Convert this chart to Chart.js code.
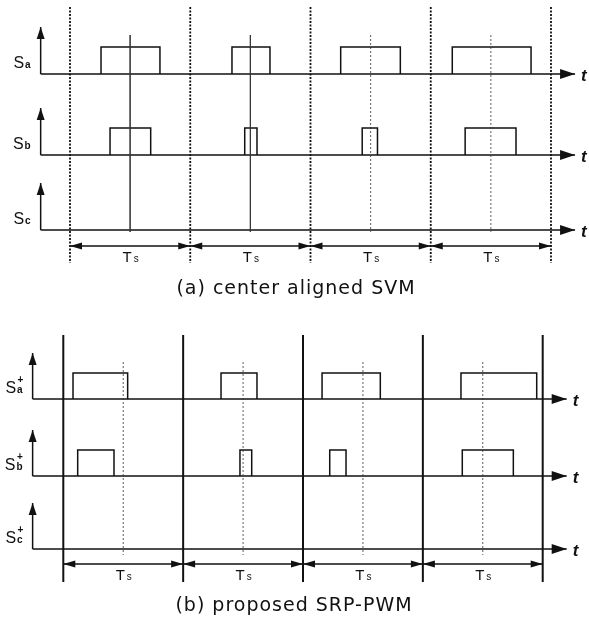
<!DOCTYPE html>
<html>
<head>
<meta charset="utf-8">
<script src="https://cdn.jsdelivr.net/npm/chart.js@4.4.1/dist/chart.umd.min.js"></script>
<style>
  html, body { margin: 0; padding: 0; background: #fff; }
  canvas { display: block; }
</style>
</head>
<body>
<canvas id="pwm" width="589" height="624"></canvas>
<script>
// switching periods (t / Ts)
const periods = [0, 1, 2, 3];
// gate pulses as [on, off] in t / Ts : center aligned SVM
const svmSa = [[0.258, 0.748], [1.347, 1.663], [2.251, 2.747], [3.179, 3.834]];
const svmSb = [[0.333, 0.671], [1.453, 1.555], [2.430, 2.557], [3.286, 3.709]];
const svmSc = [];
// gate pulses as [on, off] in t / Ts : proposed SRP-PWM
const srpSa = [[0.081, 0.537], [1.316, 1.616], [2.159, 2.645], [3.318, 3.950]];
const srpSb = [[0.120, 0.423], [1.474, 1.572], [2.223, 2.359], [3.329, 3.755]];
const srpSc = [];
// texts
const phaseSubs = ['a', 'b', 'c'];
const periodText = ['T', 's'];
const captions = ['(a) center aligned SVM', '(b) proposed SRP-PWM'];

// layout of the two panels (vertical units = canvas rows)
const panels = [
  { x: 'xa', waves: [svmSa, svmSb, svmSc], sup: '', rows: [74, 155, 230], amp: 27,
    axisT: -0.244, axisH: 47, endT: 4.2, bound: [7, 263], boundW: 1.8, boundDash: [2, 1.5],
    center: [35, 232], centerDash: [[], [], [2, 2], [2, 2]], tsY: 246, tsTextY: 262,
    capY: 289, capX: 296, tX: 4.25, tYOff: 7 },
  { x: 'xb', waves: [srpSa, srpSb, srpSc], sup: '+', rows: [399, 476, 549], amp: 26,
    axisT: -0.256, axisH: 46, endT: 4.2, bound: [335, 582], boundW: 2, boundDash: [],
    center: [362, 555], centerDash: [[2, 2], [2, 2], [2, 2], [2, 2]], tsY: 564, tsTextY: 580,
    capY: 606, capX: 294, tX: 4.25, tYOff: 7 }
];

// one closed rectangle per pulse, resting on the row's time axis
function pulseOutline(pulses, base, amp){
  const pts = [];
  pulses.forEach(([on, off], i) => {
    if (i) pts.push({ x: on, y: null });
    pts.push({ x: on, y: base }, { x: on, y: base - amp }, { x: off, y: base - amp }, { x: off, y: base });
  });
  return pts;
}

function line(xID, pts, width, dash, extra){
  return Object.assign({
    data: pts, xAxisID: xID, yAxisID: 'y', borderColor: '#111', borderWidth: width,
    borderDash: dash || [], pointRadius: 0, tension: 0, fill: false, clip: false, spanGaps: false
  }, extra || {});
}

const datasets = [];
panels.forEach(p => {
  // period boundaries and period centres
  periods.concat([periods.length]).forEach(k => {
    datasets.push(line(p.x, [{ x: k, y: p.bound[0] }, { x: k, y: p.bound[1] }], p.boundW, p.boundDash));
  });
  periods.forEach(k => {
    datasets.push(line(p.x, [{ x: k + 0.5, y: p.center[0] }, { x: k + 0.5, y: p.center[1] }], 0.8, p.centerDash[k],
      { borderColor: '#333' }));
  });
  // switching functions with their own axes
  p.waves.forEach((pulses, r) => {
    const base = p.rows[r];
    datasets.push(line(p.x, [{ x: p.axisT, y: base }, { x: p.endT, y: base }], 1.6, [], { arrowEnd: [15, 5] }));
    datasets.push(line(p.x, [{ x: p.axisT, y: base }, { x: p.axisT, y: base - p.axisH }], 1.5, [], { arrowEnd: [12, 4] }));
    if (pulses.length) datasets.push(line(p.x, pulseOutline(pulses, base, p.amp), 1.5, []));
  });
  // Ts dimension arrows
  periods.forEach(k => {
    datasets.push(line(p.x, [{ x: k, y: p.tsY }, { x: k + 1, y: p.tsY }], 1.4, [], { arrowStart: [12, 3.5], arrowEnd: [12, 3.5] }));
  });
});

function head(ctx, tip, from, len, half){
  const a = Math.atan2(tip.y - from.y, tip.x - from.x);
  const bx = tip.x - Math.cos(a) * len, by = tip.y - Math.sin(a) * len;
  ctx.beginPath();
  ctx.moveTo(tip.x, tip.y);
  ctx.lineTo(bx - Math.sin(a) * half, by + Math.cos(a) * half);
  ctx.lineTo(bx + Math.sin(a) * half, by - Math.cos(a) * half);
  ctx.closePath();
  ctx.fill();
}

const arrowHeads = {
  id: 'arrowHeads',
  afterDatasetsDraw(chart){
    const ctx = chart.ctx;
    ctx.save();
    ctx.fillStyle = '#111';
    chart.data.datasets.forEach((ds, i) => {
      const pts = chart.getDatasetMeta(i).data;
      const n = pts.length;
      if (ds.arrowEnd) head(ctx, pts[n - 1], pts[n - 2], ds.arrowEnd[0], ds.arrowEnd[1]);
      if (ds.arrowStart) head(ctx, pts[0], pts[1], ds.arrowStart[0], ds.arrowStart[1]);
    });
    ctx.restore();
  }
};

const labels = {
  id: 'labels',
  afterDatasetsDraw(chart){
    const ctx = chart.ctx, y = chart.scales.y;
    ctx.save();
    ctx.fillStyle = '#111';
    ctx.textBaseline = 'alphabetic';
    panels.forEach(p => {
      const xs = chart.scales[p.x];
      const axisPx = xs.getPixelForValue(p.axisT);
      // row names S_a, S_b, S_c
      phaseSubs.forEach((sub, r) => {
        const by = y.getPixelForValue(p.rows[r]) - 6;
        ctx.font = '16px "Liberation Sans", Arial, sans-serif';
        ctx.textAlign = 'left';
        const sW = ctx.measureText('S').width;
        ctx.font = 'bold 10px "Liberation Sans", Arial, sans-serif';
        const subW = ctx.measureText(sub).width;
        const left = axisPx - 10 - sW - 1 - subW;
        ctx.font = '16px "Liberation Sans", Arial, sans-serif';
        ctx.fillText('S', left, by);
        ctx.font = 'bold 10px "Liberation Sans", Arial, sans-serif';
        ctx.fillText(sub, left + sW + 1, by);
        if (p.sup) ctx.fillText(p.sup, left + sW + 1.5, by - 10);
      });
      // time axis labels
      ctx.font = 'italic bold 17px "Liberation Sans", Arial, sans-serif';
      ctx.textAlign = 'left';
      p.rows.forEach(row => {
        ctx.fillText('t', xs.getPixelForValue(p.tX), y.getPixelForValue(row) + p.tYOff);
      });
      // Ts under each period
      periods.forEach(k => {
        const cx = xs.getPixelForValue(k + 0.5);
        const ty = y.getPixelForValue(p.tsTextY);
        ctx.font = '15px "Liberation Sans", Arial, sans-serif';
        const tW = ctx.measureText(periodText[0]).width;
        ctx.textAlign = 'left';
        ctx.fillText(periodText[0], cx - tW / 2 - 3, ty);
        ctx.font = '10px "Liberation Sans", Arial, sans-serif';
        ctx.fillText(periodText[1], cx + tW / 2 - 1, ty);
      });
    });
    // captions
    ctx.font = '19px "DejaVu Sans", sans-serif';
    ctx.textAlign = 'center';
    ctx.textBaseline = 'middle';
    ctx.letterSpacing = '1px';
    panels.forEach((p, i) => {
      ctx.fillText(captions[i], p.capX, y.getPixelForValue(p.capY));
    });
    ctx.restore();
  }
};

new Chart(document.getElementById('pwm'), {
  type: 'line',
  data: { datasets },
  options: {
    responsive: false,
    animation: false,
    devicePixelRatio: 1,
    events: [],
    layout: { padding: 0 },
    plugins: { legend: { display: false }, tooltip: { enabled: false } },
    scales: {
      xa: { type: 'linear', display: false, min: -0.5821, max: 4.3160 },
      xb: { type: 'linear', display: false, min: -0.5282, max: 4.3863 },
      y: { type: 'linear', display: false, min: 0, max: 624, reverse: true }
    }
  },
  plugins: [arrowHeads, labels]
});
</script>
</body>
</html>
